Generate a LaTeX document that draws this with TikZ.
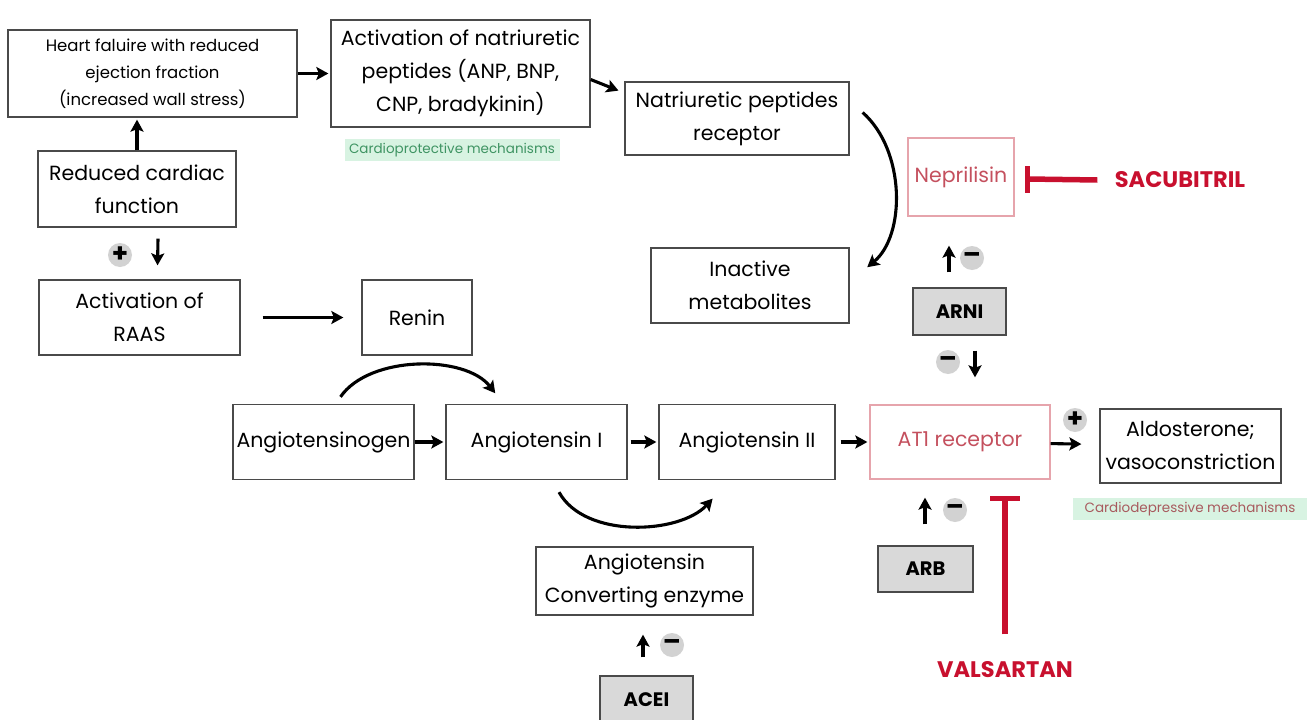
\documentclass[tikz,border=0pt]{standalone}
\usepackage{fontspec}
\setmainfont{Poppins}
\usetikzlibrary{calc,positioning,arrows.meta}
\definecolor{boxline}{HTML}{4A4A4A}
\definecolor{drugred}{HTML}{C8102E}
\definecolor{softred}{HTML}{C4505E}
\definecolor{pinkline}{HTML}{E6A4AC}
\definecolor{mintbg}{HTML}{D8F3E2}
\definecolor{mintfg}{HTML}{3F9463}
\definecolor{dustred}{HTML}{A85A5E}
\definecolor{signgrey}{HTML}{D2D2D2}
\definecolor{drugfill}{HTML}{D9D9D9}
\tikzset{
>={Stealth[length=12pt, width=13pt, inset=2.5pt]},
  punkt/.style={
    rectangle,
    draw=boxline, line width=1.3pt,
    align=center,
    inner sep=1pt,
    font=\fontsize{20.5}{33}\selectfont},
  redpunkt/.style={punkt, draw=pinkline, text=softred},
  drug/.style={punkt, fill=drugfill,
    font=\fontsize{19.5}{20}\selectfont\bfseries},
  drugname/.style={text=drugred, font=\fontsize{22.5}{24}\selectfont\bfseries},
  mechlabel/.style={
    rectangle, fill=mintbg,
    minimum height=22, inner sep=0pt,
    font=\fontsize{13.5}{15}\selectfont},
  sign/.style={
    circle, fill=signgrey,
    minimum size=24, inner sep=0pt,
    font=\fontsize{26}{26}\selectfont\bfseries},
  line/.style={draw, line width=3.1pt, ->, shorten >=2pt},
  blocker/.style={draw=drugred, line width=5.5pt},
}
\begin{document}
\begin{tikzpicture}
  [x=1pt, y=-1pt]
  \useasboundingbox (0,0) rectangle (1312,720);
  % natriuretic branch
  \node (hfref) [punkt, minimum width=289, minimum height=87,
    font=\fontsize{16.5}{27}\selectfont] at (152.5,73.5)
    {Heart faluire with reduced\\ ejection fraction\\ (increased wall stress)};
  \node (natpep) [punkt, minimum width=259, minimum height=107] at (460.5,73.5)
    {Activation of natriuretic\\ peptides (ANP, BNP,\\ CNP, bradykinin)};
  \node (protlab) [mechlabel, minimum width=215, text=mintfg] at (452,150)
    {Cardioprotective mechanisms};
  \node (nprec) [punkt, minimum width=224, minimum height=73] at (737,118.5)
    {Natriuretic peptides\\ receptor};
  \node (inact) [punkt, minimum width=198, minimum height=75] at (750,285.5)
    {Inactive\\ metabolites};
  \node (nep) [redpunkt, minimum width=106, minimum height=78] at (961,177)
    {Neprilisin};
  \node (sacub) [drugname] at (1180,180) {SACUBITRIL};
  \node (arni) [drug, minimum width=93, minimum height=47] at (959.5,311.5) {ARNI};
  % RAAS branch
  \node (redcard) [punkt, minimum width=198, minimum height=76] at (137,189)
    {Reduced cardiac\\ function};
  \node (raas) [punkt, minimum width=201, minimum height=75] at (139.5,317.5)
    {Activation of\\ RAAS};
  \node (renin) [punkt, minimum width=110, minimum height=75] at (417,317.5) {Renin};
  \node (agen) [punkt, minimum width=181, minimum height=75] at (323.5,442)
    {Angiotensinogen};
  \node (angone) [punkt, minimum width=181, minimum height=75] at (536.5,442)
    {Angiotensin I};
  \node (angtwo) [punkt, minimum width=176, minimum height=75] at (747,442)
    {Angiotensin II};
  \node (atone) [redpunkt, minimum width=180, minimum height=74] at (960,442)
    {AT1 receptor};
  \node (aldo) [punkt, minimum width=181, minimum height=74] at (1190.5,446)
    {Aldosterone;\\ vasoconstriction};
  \node (deplab) [mechlabel, minimum width=234, text=dustred] at (1190,509)
    {Cardiodepressive mechanisms};
  \node (ace) [punkt, minimum width=217, minimum height=68] at (644.5,581)
    {Angiotensin\\ Converting enzyme};
  \node (acei) [drug, minimum width=93, minimum height=48] at (646.5,700) {ACEI};
  \node (arb) [drug, minimum width=95, minimum height=46] at (925.5,569) {ARB};
  \node (valsartan) [drugname] at (1005,670) {VALSARTAN};
  % plus / minus marks
  \node (plusraas) [sign] at (120,255) {+};
  \node (minusnep) [sign] at (972,258) {–};
  \node (minusat) [sign] at (948,362) {–};
  \node (minusarb) [sign] at (955,510) {–};
  \node (minusace) [sign] at (672,645) {–};
  \node (plusaldo) [sign] at (1075,420) {+};

  % connectors
  \draw[line] (hfref) -- (natpep);
  \draw[line] ($(natpep.east)+(0,6)$) -- ($(nprec.north west)+(-4,10)$);
  \draw[line] ($(nprec.east)+(13,-6)$)
    .. controls +(43,38) and +(40,-33) .. ($(inact.east)+(16,-17)$);
  \draw[line] (redcard.north) -- (redcard.north |- hfref.south);
  \draw[line] ($(redcard.south)+(21,11)$) -- ($(raas.north)+(18,-12)$);
  \draw[line, shorten <=22pt, shorten >=18pt] (raas) -- (renin);
  \draw[line] ($(agen.north)+(17,-7)$)
    .. controls +(29,-42) and +(-31,-40) .. ($(angone.north)+(-40,-9)$);
  \draw[line] (agen) -- (angone);
  \draw[line, shorten <=3pt] (angone) -- (angtwo);
  \draw[line] ($(angone.south)+(22.5,12)$)
    .. controls +(26,47) and +(-34,37) .. ($(angtwo.south)+(-33,17)$);
  \draw[line, shorten <=5pt] (angtwo) -- (atone);
  \draw[line, shorten >=18pt] (atone) -- (aldo);
  \draw[line] ($(acei.north)+(-3.5,-18)$) -- ($(ace.south)+(-1.5,17)$);
  \draw[line] ($(arni.north)+(-10.5,-15)$) -- ($(nep.south)+(-12,27)$);
  \draw[line] ($(arni.south)+(15.5,15)$) -- ($(atone.north)+(15,-25)$);
  \draw[line] ($(arb.north)+(-0.5,-21)$) -- ($(atone.south)+(-35,16)$);
  % inhibitors
  \draw[blocker] (sacub.west) ++(-14,0) coordinate (sacend) -- ($(nep.east)+(13,2)$);
  \draw[blocker] ($(nep.east)+(13,-11)$) -- ($(nep.east)+(13,16)$);
  \draw[blocker] ($(valsartan.north)+(0,-24)$) -- ($(atone.south)+(45,19)$);
  \draw[blocker] ($(atone.south)+(30,19)$) -- ($(atone.south)+(60,19)$);
\end{tikzpicture}
\end{document}
